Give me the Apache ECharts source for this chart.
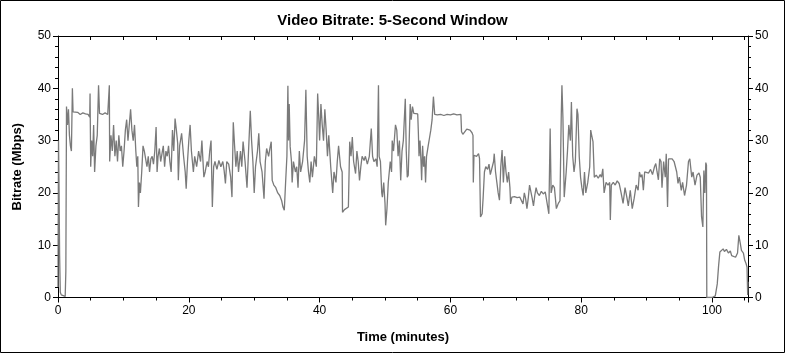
<!DOCTYPE html>
<html>
<head>
<meta charset="utf-8">
<script src="https://cdn.jsdelivr.net/npm/echarts@6/dist/echarts.min.js"></script>
<style>
html,body{margin:0;padding:0;background:#fff;}
#c{width:785px;height:353px;}
</style>
</head>
<body>
<div id="c"></div>
<script>
var titleText = "Video Bitrate: 5-Second Window";
var xTitle = "Time (minutes)";
var yTitle = "Bitrate (Mbps)";
var xTickLabels = [0, 20, 40, 60, 80, 100];
var yTickLabels = [0, 10, 20, 30, 40, 50];

var times = [
0.0,0.08,0.15,0.25,0.35,0.5,0.8,1.1,1.2,1.3,1.45,1.6,1.75,1.9,2.05,2.2,2.3,2.6,3.0,3.4,3.8,4.2,4.6,4.85,4.9,
5.0,5.15,5.3,5.45,5.6,5.8,6.0,6.2,6.35,6.8,7.2,7.6,7.85,7.9,8.1,8.3,8.5,8.7,8.9,9.1,9.3,9.5,9.7,9.9,
10.1,10.3,10.5,10.7,10.9,11.1,11.3,11.5,11.7,11.9,12.05,12.2,12.3,12.45,12.6,12.8,13.0,13.2,13.4,13.6,13.8,
14.0,14.2,14.4,14.6,14.8,15.0,15.15,15.3,15.5,15.7,15.9,16.1,16.3,16.5,16.7,16.9,17.1,17.3,17.5,17.7,17.9,
18.1,18.3,18.4,18.6,18.9,19.2,19.45,19.6,19.8,20.0,20.2,20.4,20.7,20.9,21.2,21.5,21.8,22.0,22.3,22.5,22.8,
23.0,23.2,23.4,23.6,23.8,24.0,24.3,24.6,24.9,25.2,25.4,25.6,25.8,26.1,26.4,26.6,26.8,27.0,27.2,27.4,27.6,
27.9,28.1,28.3,28.6,28.9,29.1,29.4,29.6,29.8,30.0,30.2,30.5,30.7,30.9,31.2,31.5,31.7,31.9,32.2,32.4,32.6,
32.75,33.0,33.3,33.6,33.9,34.2,34.4,34.6,34.8,35.0,35.15,35.25,35.35,35.5,35.7,35.8,36.0,36.3,36.5,36.7,
36.9,37.1,37.4,37.7,37.9,38.1,38.3,38.5,38.7,38.9,39.2,39.5,39.7,39.85,40.0,40.2,40.4,40.6,40.8,41.0,41.2,
41.4,41.7,42.0,42.2,42.5,42.7,42.9,43.2,43.45,43.5,43.8,44.1,44.4,44.55,44.6,44.8,45.0,45.2,45.5,45.7,45.9,
46.1,46.3,46.5,46.8,47.0,47.3,47.6,47.9,48.1,48.3,48.6,48.8,49.0,49.1,49.3,49.5,49.6,49.8,50.0,50.1,50.3,
50.5,50.8,51.0,51.1,51.3,51.6,51.8,52.0,52.2,52.4,52.6,52.8,53.1,53.25,53.4,53.55,53.7,53.85,54.0,54.2,54.4,
54.7,55.0,55.1,55.2,55.35,55.5,55.6,55.75,55.9,56.05,56.2,56.35,56.6,56.8,57.0,57.2,57.4,57.6,58.0,58.5,59.0,
59.5,60.0,60.5,61.0,61.6,61.7,61.9,62.2,62.5,62.7,63.0,63.3,63.45,63.5,63.6,64.0,64.3,64.45,64.6,64.85,65.0,
65.2,65.4,65.7,65.9,66.1,66.4,66.6,66.7,66.9,67.1,67.3,67.5,67.7,67.9,68.1,68.3,68.5,68.7,68.9,69.1,69.2,
69.4,69.8,70.2,70.6,70.9,71.1,71.3,71.5,71.7,71.9,72.1,72.3,72.5,72.7,72.9,73.1,73.3,73.6,73.9,74.2,74.5,
74.8,75.05,75.25,75.4,75.65,75.9,76.2,76.5,76.75,76.95,77.05,77.2,77.4,77.7,77.9,78.1,78.35,78.5,78.7,78.9,
79.1,79.35,79.5,79.7,79.9,80.1,80.3,80.5,80.7,81.0,81.3,81.45,81.6,81.8,82.0,82.3,82.6,82.9,83.1,83.3,83.5,
83.8,84.1,84.35,84.45,84.6,84.9,85.2,85.5,85.8,86.1,86.4,86.7,87.0,87.2,87.5,87.8,88.1,88.4,88.7,88.9,89.1,
89.3,89.5,89.7,90.0,90.3,90.6,90.9,91.2,91.4,91.6,91.8,92.0,92.2,92.35,92.6,92.85,93.0,93.2,93.35,93.6,93.9,
94.2,94.4,94.6,94.8,95.0,95.3,95.5,95.8,96.1,96.4,96.6,96.9,97.1,97.4,97.7,98.0,98.2,98.4,98.6,98.75,98.9,
99.05,99.15,99.2,99.5,100.0,100.5,100.8,101.0,101.2,101.4,101.7,101.9,102.2,102.5,102.8,103.0,103.3,103.6,
103.9,104.1,104.3,104.5,104.8,105.0,105.2,105.35,105.45,105.5
];

var bitrate = [
2,30,22,8,1,0.5,0.3,0.2,5,36.5,33,36,31,29,28,40,35.5,35.2,35.4,35.0,35.3,35.1,35.0,34.5,39,
25,30,27,33,24,29,31,40.6,35.2,35.0,35.3,35.0,40.6,26,31,28,33,27,30,26,31,28,29,25,
28,32,34,30,33,36,32,30,33,28,25,27,17.3,22,20,24,29,28,26.5,25,27,
24,26.5,27,25.5,28,32.6,24,27,28.5,26,27.5,29,25,28,27,29,26,24,32,28,34.2,
32,29.5,22.4,29,31.4,27,24,20.8,26,30,33,28,24,27,25,28,26,30,23,24,26,
25,28,30,17.3,25,26,24.5,26.2,25,26,24.3,21.8,26,25.5,23,19.2,33.5,29,25,28,24,
28,25,29.8,26,21,27,35.7,30,26,20,25,28,31.4,26,24,18.9,26,28.5,27,28.5,29.8,
22.4,21.5,21,20,19.5,18.5,17.3,16.7,22,27,40.5,30,37,28.8,26,22,26,24,25,21,
28,24,26,30,39.7,27,24,22,26,23,27,25,39,35,30,37,33,30,36,32,27,
31,25,20,24,22,26,29,25,24,16.3,16.8,17,17.3,17.5,29.8,27,30.7,26,23.7,28,26,
22.4,25,27,26.2,27,25.5,27,32.3,27,26,26.5,25,40.6,27,26,20,19.2,22,18,13.8,17,
22,26,24,30,28,33,32,27,30,22.4,28,30,38,28,23,23.4,30,37,34,36.5,35.2,
35,35.1,31.5,27,30,26,22.4,29,25,27,22,27,29,30.5,32,34,38.4,35,34.9,35.0,34.8,
35.0,34.9,35.1,34.9,35.0,31.7,31.2,31.5,32.2,32.5,32,31.5,31,22,27.2,27,27.5,26.6,15.4,16,19,
24,25,24.5,25.5,23.5,25,26,27.5,24,22,20,18.6,25,28.2,22,27,24,22,24,21,17.9,
19.2,19.3,19.1,19.2,19.5,17.9,20,18.9,17,19,21.5,21.3,19,17.5,19.5,21,20,19.5,20.3,19.8,20.2,
20,16,32.3,20,21.5,21,17,18,18.5,35,40.6,34.5,19.2,24,28,33,30,37.4,27,24,
26,36.1,35,26.9,23,21,19.5,24,20,22,25,32,31,29.8,23,23.4,22.8,23.5,23,24.6,20,
22,21.5,22,14.8,21.5,22,21.5,22.3,21.8,20,18,21,19,17.5,20.5,17,19,21.5,20.5,24,23,
23.5,20.5,24,24.3,23.8,24.5,23.5,25,25.6,24,22.5,26.5,26,21,26,23,27.5,17.3,26.5,26.8,26.5,
26,25,24,21.8,23,20.5,22,19.5,21.5,26,26.5,23,24,21.5,23.4,23.8,23,15.4,13.5,24.3,20,
25.8,25.3,0,0,0,0.3,2.6,6,8.7,9,9.3,8.8,9.2,8.5,8.9,8,8.3,7.7,
8.5,11.9,10.5,9,8.5,7.1,6.5,5.8,0.5,3
];

var seriesData = times.map(function (t, i) { return [t, bitrate[i]]; });

var FONT = "'Liberation Sans', Arial, sans-serif";
var chart = echarts.init(document.getElementById('c'), null, {renderer: 'canvas'});
var X_MAX = 105.5;

chart.setOption({
  animation: false,
  backgroundColor: '#ffffff',
  title: {
    text: titleText,
    left: 'center',
    top: 8,
    textStyle: {fontFamily: FONT, fontSize: 15, fontWeight: 'bold', color: '#000'}
  },
  grid: {left: 58, right: 37, top: 36, bottom: 55.5, containLabel: false},
  graphic: [{
    type: 'rect',
    shape: {x: 0.5, y: 0.5, width: 784, height: 352},
    style: {fill: null, stroke: '#000', lineWidth: 1},
    silent: true, z: 100
  }],
  xAxis: [{
    type: 'value', position: 'bottom', min: 0, max: X_MAX, interval: 20,
    name: xTitle, nameLocation: 'middle', nameGap: 33,
    nameTextStyle: {fontFamily: FONT, fontSize: 13, fontWeight: 'bold', color: '#000'},
    axisLine: {show: true, onZero: false, lineStyle: {color: '#000', width: 1}},
    axisTick: {show: true, inside: false, length: 5, lineStyle: {color: '#000'}},
    minorTick: {show: true, splitNumber: 4, length: 3, lineStyle: {color: '#000'}},
    splitLine: {show: false},
    axisLabel: {
      fontFamily: FONT, fontSize: 12, color: '#000', margin: 7,
      showMaxLabel: false,
      formatter: function (v) { return xTickLabels.indexOf(v) >= 0 ? String(v) : ''; }
    }
  }, {
    type: 'value', position: 'top', min: 0, max: X_MAX, interval: 5,
    axisLine: {show: true, onZero: false, lineStyle: {color: '#000', width: 1}},
    axisTick: {show: true, inside: true, length: 4, lineStyle: {color: '#000'}},
    axisLabel: {show: false},
    splitLine: {show: false}
  }],
  yAxis: [{
    type: 'value', position: 'left', min: 0, max: 50, interval: 10,
    name: yTitle, nameLocation: 'middle', nameGap: 34, nameRotate: 90,
    nameTextStyle: {fontFamily: FONT, fontSize: 13, fontWeight: 'bold', color: '#000'},
    axisLine: {show: true, onZero: false, lineStyle: {color: '#000', width: 1}},
    axisTick: {show: true, inside: false, length: 5, lineStyle: {color: '#000'}},
    minorTick: {show: true, splitNumber: 5, length: 3, lineStyle: {color: '#000'}},
    splitLine: {show: false},
    axisLabel: {
      fontFamily: FONT, fontSize: 12, color: '#000', margin: 7,
      formatter: function (v) { return yTickLabels.indexOf(v) >= 0 ? String(v) : ''; }
    }
  }, {
    type: 'value', position: 'right', min: 0, max: 50, interval: 10,
    axisLine: {show: true, onZero: false, lineStyle: {color: '#000', width: 1}},
    axisTick: {show: true, inside: false, length: 5, lineStyle: {color: '#000'}},
    minorTick: {show: true, splitNumber: 5, length: 3, lineStyle: {color: '#000'}},
    splitLine: {show: false},
    axisLabel: {
      fontFamily: FONT, fontSize: 12, color: '#000', margin: 7,
      formatter: function (v) { return yTickLabels.indexOf(v) >= 0 ? String(v) : ''; }
    }
  }],
  series: [{
    type: 'line',
    xAxisIndex: 0, yAxisIndex: 0,
    data: seriesData,
    showSymbol: false,
    symbol: 'none',
    lineStyle: {color: '#7a7a7a', width: 1.3},
    clip: true
  }]
});
</script>
</body>
</html>
